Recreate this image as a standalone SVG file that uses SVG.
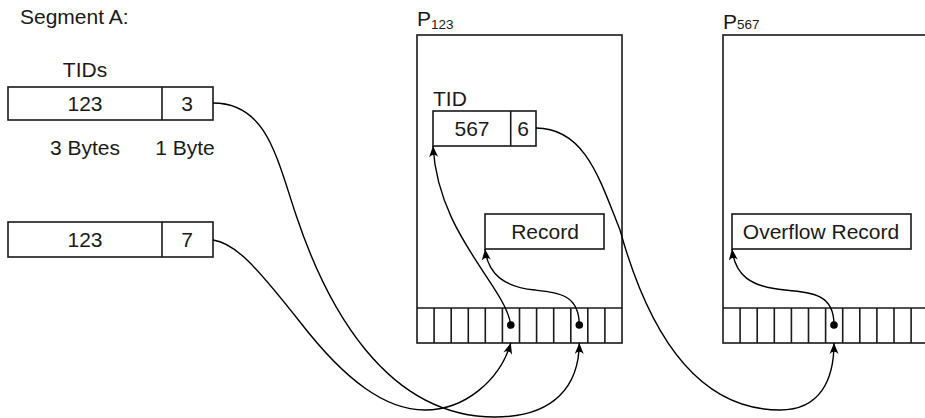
<svg xmlns="http://www.w3.org/2000/svg" width="925" height="418" viewBox="0 0 925 418">
<defs>
<style>
.box{fill:none;stroke:#1a1a1a;stroke-width:1.6}
.ln{fill:none;stroke:#1a1a1a;stroke-width:1.6}
.con{fill:none;stroke:#000;stroke-width:1.4}
.t{font-family:"Liberation Sans",Arial,sans-serif;font-size:21px;fill:#1a1a1a}
.m{text-anchor:middle}
.sub{font-family:"Liberation Sans",Arial,sans-serif;font-size:13.5px;fill:#1a1a1a}
</style>
<marker id="arr" markerUnits="userSpaceOnUse" markerWidth="14" markerHeight="12" viewBox="-12 -6 13 12" refX="0" refY="0" orient="auto">
<path d="M0,0 L-11,-4.5 Q-6.5,0 -11,4.5 Z" fill="#000"/>
</marker>
</defs>
<rect width="925" height="418" fill="#fff"/>
<g id="segment-label"><text class="t" x="20" y="24">Segment A:</text></g>
<g id="tid1">
<text class="t m" x="85" y="77">TIDs</text>
<rect class="box" x="8" y="87" width="205" height="33"/>
<line class="ln" x1="162" y1="87" x2="162" y2="120"/>
<text class="t m" x="85" y="111">123</text>
<text class="t m" x="187" y="111">3</text>
<text class="t m" x="85" y="155">3 Bytes</text>
<text class="t m" x="185" y="155">1 Byte</text>
</g>
<g id="tid2">
<rect class="box" x="8" y="222" width="205" height="35"/>
<line class="ln" x1="162" y1="222" x2="162" y2="257"/>
<text class="t m" x="85" y="247">123</text>
<text class="t m" x="187" y="247">7</text>
</g>
<g id="page123">
<text class="t" x="417" y="26">P</text><text class="sub" x="431" y="29">123</text>
<rect class="box" x="417" y="35" width="205" height="308"/>
<line class="ln" x1="417" y1="308" x2="622" y2="308"/>
<path class="ln" d="M434.1,308V343M451.2,308V343M468.3,308V343M485.3,308V343M502.4,308V343M519.5,308V343M536.6,308V343M553.7,308V343M570.8,308V343M587.8,308V343M604.9,308V343"/>
<circle cx="510.8" cy="325" r="3.8" fill="#000"/>
<circle cx="579.3" cy="325" r="3.8" fill="#000"/>
</g>
<g id="tid-in-page">
<text class="t" x="433" y="106">TID</text>
<rect class="box" x="433" y="111" width="103" height="35"/>
<line class="ln" x1="510.7" y1="111" x2="510.7" y2="146"/>
<text class="t m" x="472" y="136">567</text>
<text class="t m" x="523" y="136">6</text>
</g>
<g id="record">
<rect class="box" x="485" y="214" width="119" height="35"/>
<text class="t m" x="545" y="239">Record</text>
</g>
<g id="page567">
<text class="t" x="723" y="29">P</text><text class="sub" x="737" y="29">567</text>
<rect class="box" x="723" y="35" width="230" height="308"/>
<line class="ln" x1="723" y1="308" x2="925" y2="308"/>
<path class="ln" d="M740.1,308V343M757.2,308V343M774.3,308V343M791.4,308V343M808.5,308V343M825.6,308V343M842.7,308V343M859.8,308V343M876.9,308V343M894,308V343M911.1,308V343"/>
<circle cx="834" cy="325" r="3.8" fill="#000"/>
</g>
<g id="overflow">
<rect class="box" x="732" y="214" width="179" height="35"/>
<text class="t m" x="821" y="239">Overflow Record</text>
</g>
<g id="connectors">
<path class="con" marker-end="url(#arr)" d="M213,103 C266,103 276,155 296,215 C326,305 385,417 495,417 C555,417 579,385 579.3,343"/>
<path class="con" marker-end="url(#arr)" d="M213,240 C235,243 255,265 300,322 C345,380 385,410 425,410 C465,410 500,380 510.8,343"/>
<path class="con" marker-end="url(#arr)" d="M510.8,325 C505,285 438,235 433,146"/>
<path class="con" marker-end="url(#arr)" d="M579.3,325 C579,295 560,293 535,290 C505,287 488,275 485,249"/>
<path class="con" marker-end="url(#arr)" d="M536,128 C585,128 600,180 620,230 C645,320 690,410 780,410 C820,410 834,380 834,343"/>
<path class="con" marker-end="url(#arr)" d="M834,325 C834,295 815,293 785,290 C750,287 735,275 732,249"/>
</g>
</svg>
